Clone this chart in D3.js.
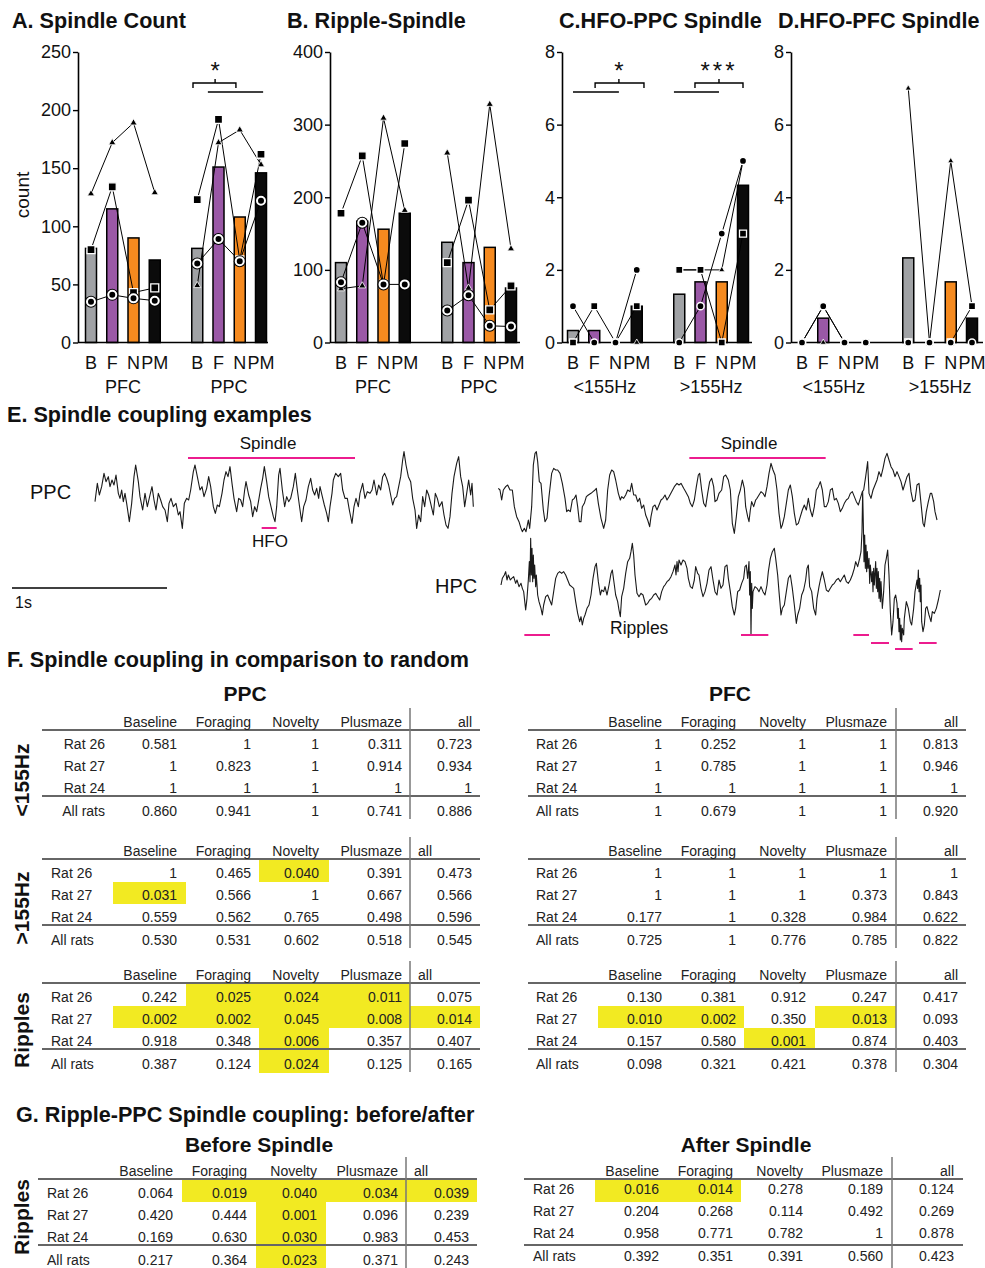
<!DOCTYPE html>
<html>
<head>
<meta charset="utf-8">
<script src="https://cdn.jsdelivr.net/npm/d3@7"></script>
<style>
  body { margin: 0; background: #fff; }
  svg { font-family: "Liberation Sans", Arial, Helvetica, sans-serif; }
</style>
</head>
<body>
<svg id="fig" width="985" height="1268"></svg>
<script>
// ---------- DATA: bar panels (values per condition slot, first group then second group)
const conds = ["B", "F", "N", "PM"];
const countGroups = ["PFC", "PPC"];
const hfoGroups = ["<155Hz", ">155Hz"];

// A. Spindle Count
const countMean = [81, 115, 90, 71, 81, 151, 108, 146];
const countTri  = [128, 172, 189, 129, 49, 172, 183, 153];
const countSq   = [80, 134, 43, 47, 123, 192, 71, 162];
const countCirc = [35, 41, 38, 36, 68, 89, 70, 122];

// B. Ripple-Spindle
const rippleMean = [110, 167, 156, 178, 138, 110, 131, 75];
const rippleTri  = [74, 78, 309, 182, 261, 75, 328, 129];
const rippleSq   = [178, 257, 80, 274, 110, 196, 45, 78];
const rippleCirc = [83, 165, 80, 80, 44, 65, 23, 22];

// C. HFO-PPC Spindle
const hfoPpcMean = [0.33, 0.33, 0, 1, 1.33, 1.67, 1.67, 4.33];
const hfoPpcTri  = [0, 0, 0, 0, 2, 2, 2, 5];
const hfoPpcSq   = [0, 1, 0, 1, 2, 2, 0, 3];
const hfoPpcCirc = [1, 0, 0, 2, 0, 1, 3, 5];

// D. HFO-PFC Spindle
const hfoPfcMean = [0, 0.67, 0, 0, 2.33, 0, 1.67, 0.67];
const hfoPfcTri  = [0, 0, 0, 0, 7, 0, 5, 1];
const hfoPfcSq   = [0, 1, 0, 0, 0, 0, 0, 1];
const hfoPfcCirc = [0, 1, 0, 0, 0, 0, 0, 0];

// ---------- DATA: example traces (sample index at 465 samples/s, amplitude in display units, down = larger)
const fs = 465;
const ppcLeft = [[15,185],[22,130],[28,165],[35,140],[42,100],[48,125],[55,110],[60,140],[66,120],[72,135],[78,105],[85,160],[90,175],[95,150],[100,185],[105,160],[110,190],[118,245],[125,190],[132,110],[137,75],[145,125],[150,170],[158,210],[165,160],[172,200],[180,165],[186,140],[192,180],[198,210],[205,160],[212,180],[218,200],[225,210],[232,245],[237,190],[243,175],[250,200],[258,190],[265,225],[270,215],[277,265],[283,190],[290,175],[296,180],[302,150],[310,95],[315,75],[322,110],[330,150],[336,140],[342,170],[350,145],[356,110],[362,140],[370,200],[376,220],[382,195],[388,200],[396,160],[402,120],[408,95],[414,110],[420,80],[426,130],[432,175],[440,215],[446,175],[452,180],[458,200],[464,150],[468,125],[476,165],[482,185],[488,230],[494,200],[500,215],[507,175],[512,145],[518,115],[523,80],[530,125],[536,170],[543,200],[550,230],[555,245],[560,200],[566,105],[570,85],[577,150],[584,200],[590,170],[596,185],[602,175],[610,140],[616,100],[622,150],[628,195],[635,245],[641,200],[648,180],[655,140],[662,115],[668,150],[674,165],[680,145],[686,175],[690,140],[697,170],[703,195],[710,220],[715,245],[720,200],[726,160],[730,120],[737,100],[745,110],[752,100],[758,150],[765,175],[772,175],[778,210],[786,250],[792,200],[798,175],[805,200],[810,160],[818,130],[825,175],[832,155],[840,160],[846,150],[852,120],[860,165],[866,135],[872,150],[878,110],[884,100],[890,115],[896,135],[902,165],[908,195],[914,175],[920,170],[926,140],[932,110],[938,60],[942,35],[948,75],[955,110],[962,125],[968,175],[975,210],[980,265],[986,225],[992,245],[998,170],[1004,200],[1010,150],[1016,165],[1022,190],[1030,225],[1036,160],[1042,175],[1048,200],[1056,185],[1062,225],[1068,255],[1074,265],[1080,230],[1086,160],[1092,110],[1100,70],[1106,50],[1112,110],[1118,140],[1124,200],[1130,160],[1136,120],[1142,165],[1146,130],[1150,200]];
const ppcRight = [[10,145],[15,150],[20,180],[25,150],[32,140],[38,135],[45,150],[52,150],[58,200],[65,230],[72,245],[78,265],[82,275],[88,265],[93,275],[100,240],[104,265],[110,200],[115,75],[120,40],[124,35],[128,65],[133,125],[138,130],[145,210],[150,245],[156,235],[162,170],[170,100],[176,85],[182,90],[188,90],[195,100],[202,130],[210,175],[215,215],[220,210],[226,215],[232,180],[238,175],[243,165],[248,200],[253,245],[258,245],[262,200],[268,190],[274,170],[280,165],[288,160],[294,155],[300,150],[304,145],[310,190],[318,235],[326,265],[332,240],[338,150],[344,105],[350,90],[356,95],[362,120],[370,160],[376,180],[380,170],[386,175],[392,165],[398,150],[405,155],[410,130],[416,165],[422,165],[428,185],[434,175],[440,205],[446,195],[452,225],[458,240],[464,260],[468,230],[474,200],[480,195],[486,210],[492,195],[498,180],[504,175],[510,165],[516,180],[522,170],[530,155],[538,140],[546,130],[552,135],[558,130],[566,145],[572,155],[580,170],[586,190],[592,200],[598,180],[604,140],[610,105],[614,100],[620,150],[626,190],[632,200],[638,160],[644,125],[650,115],[656,140],[660,185],[666,180],[672,160],[680,150],[686,110],[692,105],[700,120],[706,150],[712,250],[718,280],[724,230],[730,170],[736,150],[742,120],[748,145],[752,200],[758,230],[762,245],[766,210],[770,185],[776,200],[782,180],[786,175],[792,165],[798,155],[804,160],[810,170],[816,140],[822,100],[828,70],[834,90],[840,105],[846,150],[852,220],[858,265],[862,255],[868,230],[874,190],[880,150],[886,135],[892,170],[898,220],[904,255],[910,250],[916,230],[922,210],[928,195],[934,210],[940,175],[946,210],[952,230],[958,200],[964,150],[970,140],[976,125],[982,150],[988,200],[994,200],[1000,185],[1006,150],[1012,145],[1018,180],[1024,175],[1030,190],[1036,215],[1042,205],[1048,190],[1054,180],[1060,175],[1066,160],[1072,155],[1078,170],[1084,185],[1090,195],[1096,175],[1102,155],[1106,150],[1112,110],[1118,65],[1122,160],[1128,175],[1134,150],[1140,135],[1146,120],[1152,95],[1158,110],[1164,85],[1170,55],[1176,40],[1182,60],[1188,80],[1194,90],[1200,110],[1206,95],[1212,110],[1218,125],[1224,150],[1230,130],[1236,110],[1242,100],[1248,155],[1254,185],[1260,180],[1266,135],[1272,130],[1278,190],[1284,250],[1288,260],[1294,215],[1300,185],[1306,160],[1310,160],[1316,185],[1320,215],[1326,240]];
const hpcRight = [[18,180],[22,160],[28,150],[32,140],[36,165],[40,150],[46,165],[50,160],[56,155],[62,175],[66,165],[72,185],[78,175],[82,190],[86,200],[92,255],[96,220],[100,165],[103,110],[105,170],[107,40],[109,150],[111,70],[113,170],[115,90],[117,160],[119,120],[122,185],[124,150],[128,210],[132,230],[138,250],[142,270],[146,240],[152,215],[158,210],[164,225],[170,240],[176,200],[182,160],[188,145],[194,140],[200,145],[206,140],[212,150],[218,165],[224,180],[230,185],[236,190],[242,230],[248,265],[254,290],[258,275],[262,300],[266,280],[270,270],[276,250],[282,240],[288,210],[294,160],[300,125],[304,115],[310,170],[316,210],[320,195],[326,200],[330,185],[336,210],[342,180],[348,145],[352,135],[356,165],[362,210],[368,230],[372,255],[376,275],[380,215],[386,190],[392,145],[398,110],[404,100],[408,80],[412,55],[416,90],[420,150],[426,205],[432,215],[438,205],[444,210],[448,225],[452,240],[458,235],[464,225],[470,220],[476,210],[482,205],[488,215],[494,225],[500,200],[506,185],[510,180],[516,170],[522,165],[528,155],[534,140],[540,120],[543,150],[546,110],[549,140],[552,105],[558,120],[564,105],[570,110],[576,130],[580,160],[586,185],[592,190],[598,165],[602,125],[608,145],[612,150],[618,190],[624,215],[630,200],[636,175],[642,135],[648,125],[654,165],[660,200],[666,210],[672,165],[678,190],[684,180],[690,125],[696,120],[700,160],[706,200],[712,245],[718,270],[722,250],[728,200],[734,195],[740,175],[746,160],[750,125],[754,120],[758,160],[762,110],[764,210],[766,140],[768,330],[770,175],[772,250],[774,200],[780,185],[786,190],[792,200],[798,185],[804,200],[810,210],[816,180],[820,140],[826,100],[832,80],[838,70],[842,100],[848,150],[852,200],[858,270],[862,250],[868,240],[874,200],[880,160],[886,150],[892,190],[898,240],[904,295],[908,270],[914,250],[920,210],[926,195],[932,165],[936,130],[940,120],[944,185],[950,200],[956,250],[962,270],[966,220],[972,185],[976,165],[982,140],[988,165],[994,195],[1000,200],[1006,190],[1012,180],[1018,175],[1024,165],[1030,160],[1036,170],[1042,160],[1048,150],[1054,170],[1060,175],[1066,165],[1072,150],[1078,130],[1082,110],[1088,125],[1094,100],[1098,80],[1101,20],[1103,-100],[1105,-5],[1107,110],[1109,30],[1111,130],[1113,60],[1115,140],[1117,80],[1119,130],[1122,100],[1124,175],[1126,120],[1130,170],[1132,140],[1134,200],[1136,130],[1138,180],[1142,110],[1144,190],[1146,130],[1148,200],[1150,140],[1152,220],[1154,160],[1156,230],[1158,170],[1162,250],[1166,200],[1170,120],[1174,100],[1178,75],[1182,150],[1186,260],[1190,330],[1194,290],[1198,220],[1202,210],[1206,235],[1208,280],[1210,250],[1212,320],[1214,280],[1216,345],[1218,300],[1220,350],[1222,310],[1226,330],[1228,280],[1234,230],[1240,250],[1246,290],[1250,300],[1256,250],[1260,200],[1266,165],[1268,190],[1270,135],[1272,200],[1274,160],[1276,230],[1278,180],[1280,290],[1284,320],[1288,300],[1292,250],[1296,245],[1302,270],[1308,290],[1312,260],[1318,265],[1324,250],[1330,225],[1336,195]];
const leftSpindle = [294, 795];
const leftHfo = [515, 560];
const rightSpindle = [583, 992];
const ripples = [[88, 165], [738, 820], [1075, 1122], [1128, 1182], [1200, 1253], [1272, 1325]];
const rippleLevel = [0, 0, 0, 1, 2, 1];

// ---------- DATA: p-value tables
const tableCols = ["Baseline", "Foraging", "Novelty", "Plusmaze", "all"];
const tableRows = ["Rat 26", "Rat 27", "Rat 24", "All rats"];
const ppcLow  = [[0.581, 1, 1, 0.311, 0.723], [1, 0.823, 1, 0.914, 0.934], [1, 1, 1, 1, 1], [0.860, 0.941, 1, 0.741, 0.886]];
const ppcHigh = [[1, 0.465, 0.040, 0.391, 0.473], [0.031, 0.566, 1, 0.667, 0.566], [0.559, 0.562, 0.765, 0.498, 0.596], [0.530, 0.531, 0.602, 0.518, 0.545]];
const ppcRip  = [[0.242, 0.025, 0.024, 0.011, 0.075], [0.002, 0.002, 0.045, 0.008, 0.014], [0.918, 0.348, 0.006, 0.357, 0.407], [0.387, 0.124, 0.024, 0.125, 0.165]];
const pfcLow  = [[1, 0.252, 1, 1, 0.813], [1, 0.785, 1, 1, 0.946], [1, 1, 1, 1, 1], [1, 0.679, 1, 1, 0.920]];
const pfcHigh = [[1, 1, 1, 1, 1], [1, 1, 1, 0.373, 0.843], [0.177, 1, 0.328, 0.984, 0.622], [0.725, 1, 0.776, 0.785, 0.822]];
const pfcRip  = [[0.130, 0.381, 0.912, 0.247, 0.417], [0.010, 0.002, 0.350, 0.013, 0.093], [0.157, 0.580, 0.001, 0.874, 0.403], [0.098, 0.321, 0.421, 0.378, 0.304]];
const beforeSp = [[0.064, 0.019, 0.040, 0.034, 0.039], [0.420, 0.444, 0.001, 0.096, 0.239], [0.169, 0.630, 0.030, 0.983, 0.453], [0.217, 0.364, 0.023, 0.371, 0.243]];
const afterSp  = [[0.016, 0.014, 0.278, 0.189, 0.124], [0.204, 0.268, 0.114, 0.492, 0.269], [0.958, 0.771, 0.782, 1, 0.878], [0.392, 0.351, 0.391, 0.560, 0.423]];

// ---------- STYLE
const barColors = ["#a0a2a5", "#9a58a6", "#f58a1f", "#0b0b0b"];
const pink = "#ec1c8e";
const yellow = "#f2ea22";
const ink = "#111";
const titleSize = 21.6;

const svg = d3.select("#fig");

function txt(g, x, y, s, size, opts = {}) {
  return g.append("text").attr("x", x).attr("y", y).text(s)
    .attr("font-size", size).attr("fill", opts.fill || ink)
    .attr("font-weight", opts.bold ? "bold" : null)
    .attr("text-anchor", opts.anchor || "start");
}

// ---------- BAR PANELS
function barPanel(cfg) {
  const g = svg.append("g");
  const y = d3.scaleLinear().domain([0, cfg.max]).range([342.5, 52]);
  const x = d3.scaleLinear().domain([0, 8]).range([cfg.x0, cfg.x0 + 170]);
  const slots = [0, 1, 2, 3, 5, 6, 7, 8];

  txt(g, cfg.titleX, 28, cfg.title, titleSize, { bold: true });

  // bars
  g.selectAll("rect.bar").data(cfg.mean).join("rect")
    .attr("x", (d, i) => x(slots[i]) - 5.5).attr("width", 11)
    .attr("y", d => y(d)).attr("height", d => y(0) - y(d))
    .attr("fill", (d, i) => barColors[i % 4])
    .attr("stroke", "#000").attr("stroke-width", 1.5);

  // y axis
  const ax = g.append("g").attr("transform", `translate(${cfg.axisX},0)`)
    .call(d3.axisLeft(y).tickValues(d3.range(0, cfg.max + 1e-9, cfg.step))
      .tickSize(5).tickSizeOuter(0).tickPadding(2));
  ax.select(".domain").attr("stroke", "#000").attr("stroke-width", 1.6);
  ax.selectAll(".tick line").attr("stroke", "#000").attr("stroke-width", 1.4);
  ax.selectAll(".tick text").attr("font-size", 18).attr("fill", ink)
    .attr("font-family", "Liberation Sans, Arial, sans-serif");

  // x baseline
  g.append("line").attr("x1", cfg.axisX).attr("x2", cfg.xEnd)
    .attr("y1", y(0)).attr("y2", y(0)).attr("stroke", "#000").attr("stroke-width", 1.6);

  // per-rat lines
  const line = d3.line().x(d => x(d[0])).y(d => y(d[1]));
  [cfg.tri, cfg.sq, cfg.circ].forEach(series => {
    [0, 4].forEach(off => {
      const pts = d3.range(4).map(k => [slots[off + k], series[off + k]]);
      g.append("path").attr("d", line(pts)).attr("fill", "none")
        .attr("stroke", "#000").attr("stroke-width", 1);
    });
  });

  // markers: triangle, square, circle
  const ms = cfg.marker;
  g.selectAll("path.tri").data(cfg.tri).join("path")
    .attr("d", d3.symbol(d3.symbolTriangle, ms.tri))
    .attr("transform", (d, i) => `translate(${x(slots[i])},${y(d)})`)
    .attr("fill", "#000").attr("stroke", "#fff").attr("stroke-width", 0.8);
  g.selectAll("path.sq").data(cfg.sq).join("path")
    .attr("d", d3.symbol(d3.symbolSquare, ms.sq))
    .attr("transform", (d, i) => `translate(${x(slots[i])},${y(d)})`)
    .attr("fill", "#000").attr("stroke", "#fff").attr("stroke-width", 1.3);
  cfg.circ.forEach((d, i) => {
    if (ms.ring) {
      g.append("circle").attr("cx", x(slots[i])).attr("cy", y(d)).attr("r", ms.r + 2)
        .attr("fill", "#000");
    }
    g.append("circle").attr("cx", x(slots[i])).attr("cy", y(d)).attr("r", ms.r)
      .attr("fill", "#000").attr("stroke", "#fff").attr("stroke-width", ms.ring ? 2 : 1.5);
  });

  // x labels
  slots.forEach((s, i) => {
    txt(g, x(s), 369, conds[i % 4], 18, { anchor: "middle" });
  });
  cfg.groups.forEach((gl, k) => {
    txt(g, x(k * 5 + 1.5), 393, gl, 18, { anchor: "middle" });
  });

  // significance marks
  (cfg.sig || []).forEach(s => {
    const b0 = x(s.bracket[0]), b1 = x(s.bracket[1]), bm = x(s.tick);
    g.append("path").attr("d", `M${b0},88V83H${b1}V88M${bm},83V79`)
      .attr("fill", "none").attr("stroke", "#000").attr("stroke-width", 1.4);
    g.append("line").attr("x1", x(s.line[0])).attr("x2", x(s.line[1]))
      .attr("y1", 92).attr("y2", 92).attr("stroke", "#000").attr("stroke-width", 1.4);
    txt(g, bm, 79, s.label, 24, { anchor: "middle" }).attr("letter-spacing", s.label.length > 1 ? 3 : 0);
  });
  return g;
}

const bigMarker = { tri: 22, sq: 64, r: 4, ring: true };
const smallMarker = { tri: 16, sq: 49, r: 3.6, ring: false };

const gA = barPanel({ title: "A. Spindle Count", titleX: 12, axisX: 78, x0: 91, xEnd: 268, max: 250, step: 50,
  mean: countMean, tri: countTri, sq: countSq, circ: countCirc, groups: countGroups, marker: bigMarker,
  sig: [{ bracket: [4.8, 6.82], tick: 5.84, line: [5.5, 8.1], label: "*" }] });
gA.append("text").attr("transform", "translate(29,195) rotate(-90)").attr("text-anchor", "middle")
  .attr("font-size", 19).attr("fill", ink).text("count");

barPanel({ title: "B. Ripple-Spindle", titleX: 287, axisX: 330, x0: 341, xEnd: 520, max: 400, step: 100,
  mean: rippleMean, tri: rippleTri, sq: rippleSq, circ: rippleCirc, groups: countGroups, marker: bigMarker });

barPanel({ title: "C.HFO-PPC Spindle", titleX: 559, axisX: 562, x0: 573, xEnd: 752, max: 8, step: 2,
  mean: hfoPpcMean, tri: hfoPpcTri, sq: hfoPpcSq, circ: hfoPpcCirc, groups: hfoGroups, marker: smallMarker,
  sig: [{ bracket: [1.04, 3.34], tick: 2.16, line: [0, 2.16], label: "*" },
        { bracket: [5.74, 8.0], tick: 6.87, line: [4.75, 6.87], label: "***" }] });

barPanel({ title: "D.HFO-PFC Spindle", titleX: 778, axisX: 791, x0: 802, xEnd: 983, max: 8, step: 2,
  mean: hfoPfcMean, tri: hfoPfcTri, sq: hfoPfcSq, circ: hfoPfcCirc, groups: hfoGroups, marker: smallMarker });

// ---------- E. TRACES
const gE = svg.append("g");
txt(gE, 7, 422, "E. Spindle coupling examples", titleSize, { bold: true });

function trace(data, x0, yTop) {
  const x = d3.scaleLinear().domain([0, fs]).range([x0, x0 + 155]);
  const y = d3.scaleLinear().domain([0, 300]).range([yTop, yTop + 100]);
  gE.append("path").attr("d", d3.line().x(d => x(d[0])).y(d => y(d[1]))(data))
    .attr("fill", "none").attr("stroke", "#1a1a1a").attr("stroke-width", 1.1).attr("stroke-linejoin", "round");
  return { x, y };
}
const tL = trace(ppcLeft, 90, 440);
const tR = trace(ppcRight, 495, 440);
const tH = trace(hpcRight, 495, 525);

function pinkBar(x1, x2, yy) {
  gE.append("line").attr("x1", x1).attr("x2", x2).attr("y1", yy).attr("y2", yy)
    .attr("stroke", pink).attr("stroke-width", 2);
}
pinkBar(tL.x(leftSpindle[0]), tL.x(leftSpindle[1]), 458);
txt(gE, 268, 449, "Spindle", 17, { anchor: "middle" });
pinkBar(tL.x(leftHfo[0]), tL.x(leftHfo[1]), 528);
txt(gE, 270, 547, "HFO", 17, { anchor: "middle" });
pinkBar(tR.x(rightSpindle[0]), tR.x(rightSpindle[1]), 458);
txt(gE, 749, 449, "Spindle", 17, { anchor: "middle" });
const rippleY = [635, 643, 649];
ripples.forEach((r, i) => pinkBar(tH.x(r[0]), tH.x(r[1]), rippleY[rippleLevel[i]]));
txt(gE, 610, 634, "Ripples", 17.5);
txt(gE, 30, 499, "PPC", 20);
txt(gE, 435, 593, "HPC", 20);

// scale bar: 1 s
const sb = d3.scaleLinear().domain([0, fs]).range([12, 167]);
gE.append("line").attr("x1", sb(0)).attr("x2", sb(fs)).attr("y1", 588).attr("y2", 588)
  .attr("stroke", "#000").attr("stroke-width", 1.5);
txt(gE, 15, 608, "1s", 16);

// ---------- F / G TABLES
const fmt = v => v === 1 ? "1" : d3.format(".3f")(v);

function table(cfg, values) {
  const g = svg.append("g");
  const L = cfg.lineY;
  const rowTop = i => i < 3 ? L + 1 + 22 * i : L + 66;
  const rowMid = i => i < 3 ? L + cfg.rowOff + 22 * i : L + cfg.rowOff + 67;

  values.forEach((row, i) => row.forEach((v, j) => {
    if (v < 0.05) {
      g.append("rect").attr("x", cfg.cells[j]).attr("width", cfg.cells[j + 1] - cfg.cells[j])
        .attr("y", rowTop(i)).attr("height", i < 3 ? 22 : 24).attr("fill", yellow);
    }
  }));

  g.append("line").attr("x1", cfg.x1).attr("x2", cfg.x2).attr("y1", L).attr("y2", L)
    .attr("stroke", "#666").attr("stroke-width", 2);
  g.append("line").attr("x1", cfg.x1).attr("x2", cfg.x2).attr("y1", L + 66).attr("y2", L + 66)
    .attr("stroke", "#666").attr("stroke-width", 2);
  g.append("line").attr("x1", cfg.vline).attr("x2", cfg.vline).attr("y1", L - 22).attr("y2", L + 89)
    .attr("stroke", "#777").attr("stroke-width", 1.5);

  tableCols.forEach((c, j) => {
    if (j === 4 && cfg.allLeft) txt(g, cfg.allLeft, L - 3, c, 14, { fill: "#222" });
    else txt(g, cfg.colR[j], L - 3, c, 14, { anchor: "end", fill: "#222" });
  });
  tableRows.forEach((r, i) => {
    txt(g, cfg.labelX, rowMid(i) + 5, r, 14, { anchor: cfg.labelAnchor || "start", fill: "#222" });
    values[i].forEach((v, j) => {
      txt(g, cfg.colR[j], rowMid(i) + 5, fmt(v), 14, { anchor: "end", fill: "#222" });
    });
  });
}

function sideLabel(x, y, s) {
  svg.append("text").attr("transform", `translate(${x},${y}) rotate(-90)`).attr("text-anchor", "middle")
    .attr("font-size", 21).attr("font-weight", "bold").attr("fill", ink).text(s);
}

txt(svg, 7, 667, "F. Spindle coupling in comparison to random", titleSize, { bold: true });
txt(svg, 245, 701, "PPC", 21, { bold: true, anchor: "middle" });
txt(svg, 730, 701, "PFC", 21, { bold: true, anchor: "middle" });

const ppcCfg = { x1: 42, x2: 480, vline: 410, colR: [177, 251, 319, 402, 472], cells: [113, 186, 259, 329, 410, 480], rowOff: 14 };
const pfcCfg = { x1: 528, x2: 966, vline: 896, colR: [662, 736, 806, 887, 958], cells: [598, 670, 744, 815, 896, 966], rowOff: 14, labelX: 536 };

table({ ...ppcCfg, lineY: 730, labelX: 105, labelAnchor: "end" }, ppcLow);
table({ ...ppcCfg, lineY: 859, labelX: 51, allLeft: 418 }, ppcHigh);
table({ ...ppcCfg, lineY: 983, labelX: 51, allLeft: 418 }, ppcRip);
table({ ...pfcCfg, lineY: 730 }, pfcLow);
table({ ...pfcCfg, lineY: 859 }, pfcHigh);
table({ ...pfcCfg, lineY: 983 }, pfcRip);

sideLabel(29, 780, "<155Hz");
sideLabel(29, 908, ">155Hz");
sideLabel(29, 1030, "Ripples");

txt(svg, 16, 1122, "G. Ripple-PPC Spindle coupling: before/after", titleSize, { bold: true });
txt(svg, 259, 1152, "Before Spindle", 21, { bold: true, anchor: "middle" });
txt(svg, 746, 1152, "After Spindle", 21, { bold: true, anchor: "middle" });

table({ lineY: 1179, x1: 38, x2: 477, vline: 406, colR: [173, 247, 317, 398, 469],
  cells: [108, 182, 256, 326, 406, 477], rowOff: 14, labelX: 47, allLeft: 414 }, beforeSp);
table({ lineY: 1179, x1: 524, x2: 963, vline: 892, colR: [659, 733, 803, 883, 954],
  cells: [595, 668, 741, 812, 892, 963], rowOff: 10, labelX: 533 }, afterSp);
sideLabel(29, 1217, "Ripples");
</script>
</body>
</html>
